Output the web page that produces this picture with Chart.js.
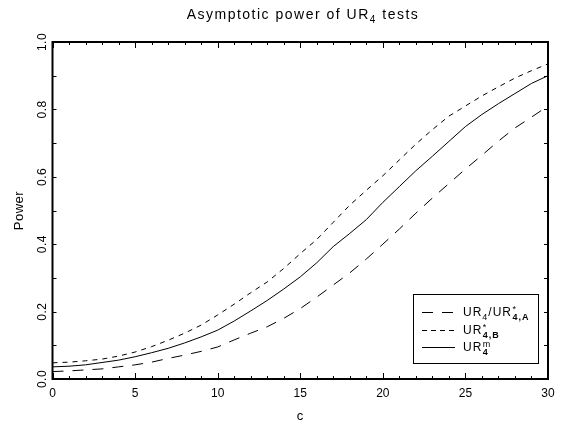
<!DOCTYPE html>
<html><head><meta charset="utf-8">
<script src="https://cdn.jsdelivr.net/npm/chart.js@4/dist/chart.umd.min.js"></script>
<style>html,body{margin:0;padding:0;background:#fff}#wrap{width:571px;height:429px;position:relative}canvas{display:block}</style>
</head><body><div id="wrap"><canvas id="c" width="571" height="429" style="width:571px;height:429px"></canvas></div>
<script>
// ---- data ----
const cValues = [0,1,2,3,4,5,6,7,8,9,10,11,12,13,14,15,16,17,18,19,20,21,22,23,24,25,26,27,28,29,30];
const powerA = [0.022,0.024,0.027,0.030,0.036,0.042,0.050,0.061,0.071,0.082,0.095,0.116,0.136,0.155,0.180,0.209,0.243,0.279,0.315,0.356,0.400,0.445,0.492,0.537,0.580,0.623,0.664,0.706,0.745,0.777,0.810];
const powerB = [0.048,0.050,0.054,0.059,0.068,0.080,0.096,0.115,0.136,0.160,0.190,0.222,0.256,0.288,0.328,0.372,0.414,0.465,0.516,0.560,0.603,0.650,0.697,0.740,0.780,0.810,0.840,0.867,0.893,0.915,0.935];
const powerM = [0.036,0.038,0.042,0.049,0.056,0.066,0.078,0.091,0.107,0.125,0.145,0.172,0.202,0.233,0.267,0.303,0.345,0.393,0.432,0.473,0.524,0.571,0.618,0.661,0.705,0.749,0.785,0.817,0.847,0.877,0.900];
const xTickValues = [0,5,10,15,20,25,30];
const xTickLabels = ['0','5','10','15','20','25','30'];
const yTickValues = [0,0.2,0.4,0.6,0.8,1.0];
const yTickLabels = ['0.0','0.2','0.4','0.6','0.8','1.0'];
const titleParts = [{t:'Asymptotic power of UR'},{t:'4',sub:true},{t:' tests'}];
const yTitle = 'Power';
const xTitle = 'c';
const legendEntries = [
  {dash:[11,9], parts:[{t:'UR'},{t:'4',sub:true},{t:'/UR'},{sup:'*',sub:'4,A'}]},
  {dash:[5,4], parts:[{t:'UR'},{sup:'*',sub:'4,B'}]},
  {dash:[], parts:[{t:'UR'},{sup:'m',sub:'4'}]}
];

const FONT = '"Liberation Sans", Arial, sans-serif';

function pts(ys){ return cValues.map((c,i)=>({x:c,y:ys[i]})); }

function drawRich(ctx, x, y, parts, size, measureOnly){
  let cx = x;
  const small = Math.round(size*0.72);
  for (const p of parts){
    if (p.t !== undefined){
      ctx.font = (p.sub? small: size) + 'px ' + FONT;
      const dy = p.sub ? size*0.3 : 0;
      if(!measureOnly) ctx.fillText(p.t, cx, y+dy);
      cx += ctx.measureText(p.t).width;
    } else {
      ctx.font = small + 'px ' + FONT;
      const w1 = ctx.measureText(p.sup).width;
      ctx.font = 'bold ' + small + 'px ' + FONT;
      const w2 = ctx.measureText(p.sub).width;
      if(!measureOnly){
        ctx.font = small + 'px ' + FONT;
        ctx.fillText(p.sup, cx+0.5, y - size*0.35);
        ctx.font = 'bold ' + small + 'px ' + FONT;
        ctx.fillText(p.sub, cx+0.5, y + size*0.3);
      }
      cx += Math.max(w1,w2)+1;
    }
  }
  return cx - x;
}

const decor = {
  id:'decor',
  afterDraw(chart){
    const ctx = chart.ctx, a = chart.chartArea;
    const xs = chart.scales.x, ys = chart.scales.y;
    ctx.save();
    ctx.strokeStyle = '#000'; ctx.fillStyle = '#000';
    // frame
    ctx.lineWidth = 2;
    ctx.strokeRect(a.left, a.top, a.right-a.left, a.bottom-a.top);
    // ticks
    ctx.lineWidth = 1;
    ctx.beginPath();
    for (let v=0; v<=30; v++){
      const px = Math.round(xs.getPixelForValue(v))+0.5;
      const len = (v%5===0)?6:3;
      ctx.moveTo(px, a.bottom); ctx.lineTo(px, a.bottom-len);
      ctx.moveTo(px, a.top); ctx.lineTo(px, a.top+len);
    }
    for (let k=0; k<=10; k++){
      const py = Math.round(ys.getPixelForValue(k/10))+0.5;
      ctx.moveTo(a.left, py); ctx.lineTo(a.left+4, py);
      ctx.moveTo(a.right, py); ctx.lineTo(a.right-4, py);
    }
    ctx.stroke();
    // y tick labels (rotated)
    ctx.font = '12px ' + FONT;
    ctx.letterSpacing = '0.5px';
    ctx.textAlign = 'center'; ctx.textBaseline = 'middle';
    yTickValues.forEach((v,i)=>{
      const py = ys.getPixelForValue(v);
      ctx.save(); ctx.translate(a.left-10, py); ctx.rotate(-Math.PI/2);
      ctx.fillText(yTickLabels[i], 0, 0); ctx.restore();
    });
    // y title
    ctx.font = '13px ' + FONT;
    ctx.save(); ctx.translate(19, (a.top+a.bottom)/2); ctx.rotate(-Math.PI/2);
    ctx.fillText(yTitle, 0, 0); ctx.restore();
    // x title
    ctx.fillText(xTitle, (a.left+a.right)/2, 416);
    // title
    ctx.textAlign = 'left'; ctx.textBaseline = 'alphabetic';
    ctx.letterSpacing = '1.5px';
    const tw = drawRich(ctx, 0, 0, titleParts, 14, true);
    drawRich(ctx, 303 - tw/2, 19, titleParts, 14, false);
    // legend
    const L = {x1:413, y1:294, x2:538, y2:363};
    ctx.lineWidth = 1;
    ctx.strokeRect(L.x1+0.5, L.y1+0.5, L.x2-L.x1, L.y2-L.y1);
    const rows = [312, 330, 347];
    ctx.letterSpacing = '1px';
    legendEntries.forEach((e,i)=>{
      ctx.setLineDash(e.dash);
      ctx.beginPath(); ctx.moveTo(422, rows[i]+0.5); ctx.lineTo(455, rows[i]+0.5); ctx.stroke();
      ctx.setLineDash([]);
      drawRich(ctx, 463, rows[i]+4, e.parts, 12, false);
    });
    ctx.restore();
  }
};

new Chart(document.getElementById('c'), {
  type:'line',
  data:{ datasets:[
    {label:'UR4/UR*4,A', data:pts(powerA), borderColor:'#000', borderWidth:1, borderDash:[11,9], pointRadius:0, fill:false, tension:0},
    {label:'UR*4,B', data:pts(powerB), borderColor:'#000', borderWidth:1, borderDash:[5,5], pointRadius:0, fill:false, tension:0},
    {label:'URm4', data:pts(powerM), borderColor:'#000', borderWidth:1, pointRadius:0, fill:false, tension:0}
  ]},
  options:{
    responsive:false, maintainAspectRatio:false, animation:false, devicePixelRatio:1,
    layout:{padding:{left:0, top:42, right:23, bottom:0}},
    plugins:{legend:{display:false}, title:{display:false}, tooltip:{enabled:false}},
    scales:{
      x:{type:'linear', min:0, max:30,
         afterBuildTicks: s => { s.ticks = xTickValues.map(v=>({value:v})); },
         ticks:{callback:(v)=> xTickLabels[xTickValues.indexOf(v)], font:{family:FONT, size:12}, color:'#000', padding:7, maxRotation:0},
         grid:{display:false, drawTicks:false}, border:{display:false},
         afterFit: s => { s.height = 50; }},
      y:{type:'linear', min:0, max:1,
         ticks:{display:false, stepSize:0.2},
         grid:{display:false, drawTicks:false}, border:{display:false},
         afterFit: s => { s.width = 52.5; }}
    }
  },
  plugins:[decor]
});
</script></body></html>
